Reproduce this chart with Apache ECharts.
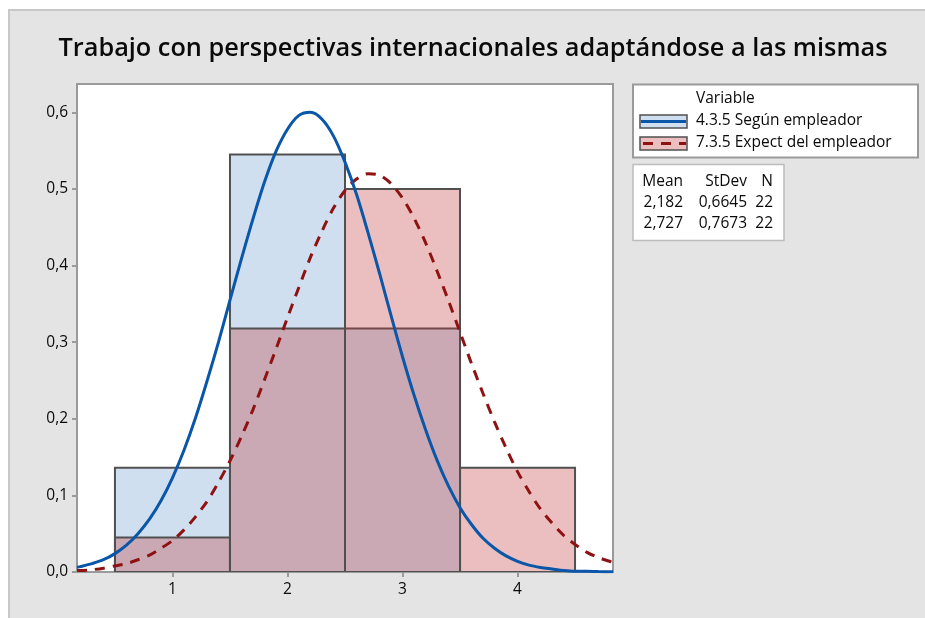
<!DOCTYPE html>
<html>
<head>
<meta charset="utf-8">
<script src="https://cdn.jsdelivr.net/npm/echarts@6/dist/echarts.min.js"></script>
<style>
html,body{margin:0;padding:0;background:#fff;}
#chart{width:925px;height:618px;}
</style>
</head>
<body>
<div id="chart"></div>
<script>
// ---- Data ----
const titleText = 'Trabajo con perspectivas internacionales adaptándose a las mismas';
const seriesNames = ['4.3.5 Según empleador', '7.3.5 Expect del empleador'];
const binCenters = [1, 2, 3, 4];
const densA = [0.136, 0.545, 0.318, 0];      // 4.3.5 Según empleador
const densB = [0.045, 0.318, 0.500, 0.136];  // 7.3.5 Expect del empleador
const statsHeader = ['Mean', 'StDev', 'N'];
const statsA = ['2,182', '0,6645', '22'];
const statsB = ['2,727', '0,7673', '22'];
const xTicks = [1, 2, 3, 4];
const yTicks = [0, 0.1, 0.2, 0.3, 0.4, 0.5, 0.6];
// fitted curves, values
const curveX = [0.17,0.2,0.3,0.4,0.5,0.6,0.7,0.8,0.9,1.0,1.1,1.2,1.3,1.4,1.5,1.6,1.7,1.8,1.9,2.0,2.1,2.2,2.3,2.4,2.5,2.6,2.7,2.8,2.9,3.0,3.1,3.2,3.3,3.4,3.5,3.6,3.7,3.8,3.9,4.0,4.1,4.2,4.3,4.4,4.5,4.6,4.7,4.8,4.83];
const curveA = [0.006,0.007,0.011,0.016,0.024,0.035,0.050,0.069,0.093,0.123,0.159,0.201,0.249,0.300,0.355,0.409,0.461,0.509,0.549,0.578,0.596,0.600,0.591,0.569,0.535,0.493,0.443,0.390,0.335,0.281,0.231,0.186,0.146,0.112,0.084,0.062,0.044,0.031,0.021,0.014,0.009,0.006,0.004,0.002,0.001,0.001,0.0005,0.0003,0.0002];
const curveB = [0.002,0.002,0.003,0.005,0.008,0.011,0.016,0.022,0.031,0.041,0.055,0.072,0.092,0.117,0.145,0.177,0.212,0.251,0.291,0.332,0.372,0.411,0.445,0.475,0.498,0.513,0.520,0.518,0.507,0.488,0.462,0.430,0.393,0.354,0.313,0.272,0.233,0.196,0.162,0.131,0.105,0.082,0.064,0.048,0.036,0.026,0.019,0.014,0.012];

const FONT = '"Open Sans", "Noto Sans", sans-serif';
const blueFill = '#d0dfef';
const redFill = 'rgba(192,55,55,0.32)';
const blueLine = '#0a56a8';
const redLine = '#8e1212';
const edge = '#505050';
const TXT = '#0a0a0a';

function barData(d) { return binCenters.map((c, i) => [c - 0.5, c + 0.5, d[i]]); }
function renderBar(params, api) {
  const h = api.value(2);
  if (!h) return null;
  const p0 = api.coord([api.value(0), 0]);
  const p1 = api.coord([api.value(1), h]);
  return {
    type: 'rect',
    shape: { x: p0[0], y: p1[1], width: p1[0] - p0[0], height: p0[1] - p1[1] },
    style: api.style()
  };
}

const chart = echarts.init(document.getElementById('chart'), null, { renderer: 'canvas' });

const LF = '15.5px ' + FONT;
const gfx = [
  { type: 'rect', z: -10, shape: { x: 9, y: 10, width: 930, height: 620 }, style: { fill: '#e4e4e4', stroke: '#c8c8c8', lineWidth: 2 } },
  { type: 'rect', shape: { x: 633, y: 84.5, width: 285, height: 73 }, style: { fill: '#fff', stroke: '#9a9a9a', lineWidth: 2 } },
  { type: 'text', x: 696, y: 99, style: { text: 'Variable', font: LF, fill: TXT, verticalAlign: 'middle' } },
  { type: 'rect', shape: { x: 640, y: 115, width: 47, height: 13 }, style: { fill: blueFill, stroke: edge, lineWidth: 1.5 } },
  { type: 'line', shape: { x1: 641, y1: 121.5, x2: 686, y2: 121.5 }, style: { stroke: blueLine, lineWidth: 3 } },
  { type: 'text', x: 696, y: 121, style: { text: seriesNames[0], font: LF, fill: TXT, verticalAlign: 'middle' } },
  { type: 'rect', shape: { x: 640, y: 137, width: 47, height: 13 }, style: { fill: '#ebbfbf', stroke: edge, lineWidth: 1.5 } },
  { type: 'line', shape: { x1: 643, y1: 143.5, x2: 686, y2: 143.5 }, style: { stroke: redLine, lineWidth: 3, lineDash: [10, 8] } },
  { type: 'text', x: 696, y: 143, style: { text: seriesNames[1], font: LF, fill: TXT, verticalAlign: 'middle' } },
  { type: 'rect', shape: { x: 633, y: 164.5, width: 151, height: 76 }, style: { fill: '#fff', stroke: '#bcbcbc', lineWidth: 1.5 } }
];
const colRight = [683, 747, 773];
[statsHeader, statsA, statsB].forEach((row, r) => {
  row.forEach((t, c) => {
    gfx.push({ type: 'text', x: colRight[c], y: 182 + r * 21, style: { text: t, font: LF, fill: TXT, align: 'right', verticalAlign: 'middle' } });
  });
});

const option = {
  backgroundColor: '#fff',
  animation: false,
  title: {
    text: titleText,
    left: 468, top: 31, textAlign: 'center',
    textStyle: { fontFamily: FONT, fontSize: 25.3, fontWeight: 600, color: TXT }
  },
  grid: { left: 77, top: 84, width: 536, height: 488, show: true, backgroundColor: '#fff', borderColor: '#9a9a9a', borderWidth: 2 },
  xAxis: {
    type: 'value', min: 0.17, max: 4.83,
    axisLine: { show: false },
    splitLine: { show: false },
    axisTick: { show: true, length: 5, customValues: xTicks, lineStyle: { color: '#9a9a9a', width: 2 } },
    axisLabel: { customValues: xTicks, color: TXT, fontFamily: FONT, fontSize: 15.5, margin: 10 }
  },
  yAxis: {
    type: 'value', min: 0, max: 0.637,
    axisLine: { show: false },
    splitLine: { show: false },
    axisTick: { show: true, length: 5, customValues: yTicks, lineStyle: { color: '#9a9a9a', width: 2 } },
    axisLabel: { customValues: yTicks, color: TXT, fontFamily: FONT, fontSize: 15.5, margin: 9,
      formatter: v => v.toFixed(1).replace('.', ',') }
  },
  graphic: gfx,
  series: [
    { type: 'custom', name: seriesNames[0], renderItem: renderBar, data: barData(densA), clip: true,
      itemStyle: { color: blueFill, borderColor: edge, borderWidth: 2 }, z: 1 },
    { type: 'custom', name: seriesNames[1], renderItem: renderBar, data: barData(densB), clip: true,
      itemStyle: { color: redFill, borderColor: edge, borderWidth: 2 }, z: 2 },
    { type: 'line', data: curveX.map((x, i) => [x, curveB[i]]), smooth: 0.3, showSymbol: false, clip: true,
      lineStyle: { color: redLine, width: 3, type: [10, 8] }, z: 3 },
    { type: 'line', data: curveX.map((x, i) => [x, curveA[i]]), smooth: 0.3, showSymbol: false, clip: true,
      lineStyle: { color: blueLine, width: 3 }, z: 4 }
  ]
};
chart.setOption(option);
</script>
</body>
</html>
